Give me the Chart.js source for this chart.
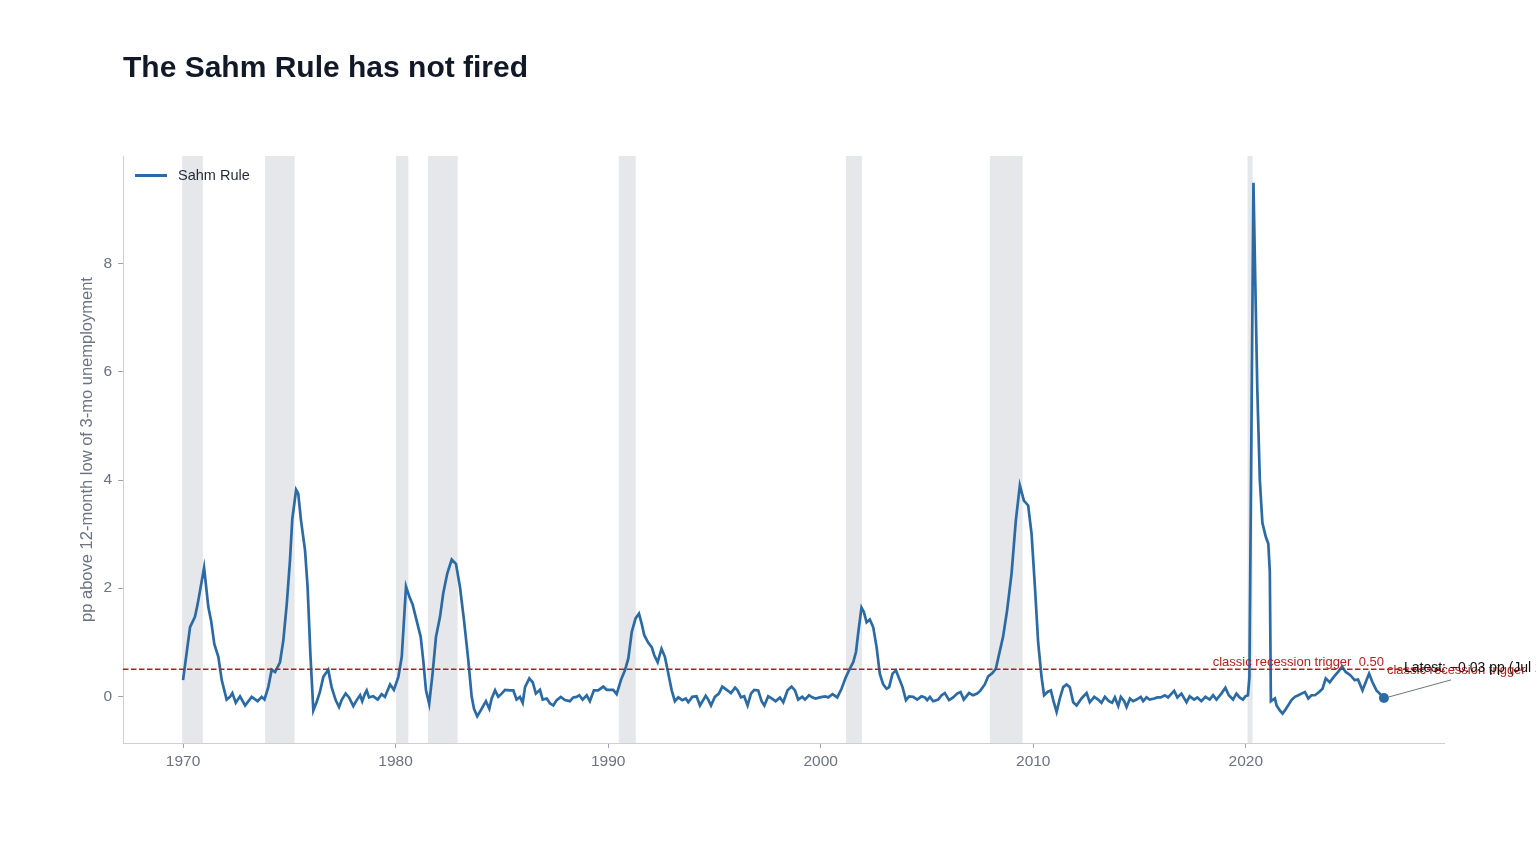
<!DOCTYPE html>
<html lang="en">
<head>
<meta charset="utf-8">
<title>The Sahm Rule has not fired</title>
<script src="https://cdn.jsdelivr.net/npm/chart.js@4.4.1/dist/chart.umd.min.js"></script>
<style>
    html, body { margin: 0; padding: 0; background: #ffffff; }
    .page { position: relative; width: 1536px; height: 864px; overflow: hidden; font-family: "Liberation Sans", Arial, Helvetica, sans-serif; }
    .page h1 { position: absolute; left: 123px; top: 52px; margin: 0; font-size: 30px; line-height: 30px; font-weight: 700; color: #111827; }
    .legend { position: absolute; left: 135px; top: 165px; height: 20px; display: flex; align-items: center; font-size: 14.5px; color: #1f2937; }
    .legend__line { width: 32px; height: 3px; background: #2c6aa3; margin-right: 11px; }
    #chartSahm { position: absolute; left: 0; top: 0; }
</style>
</head>
<body>
<div class="page">
    <canvas id="chartSahm" width="1536" height="864"></canvas>
    <h1>The Sahm Rule has not fired</h1>
    <div class="legend"><span class="legend__line"></span><span>Sahm Rule</span></div>
</div>
<script>
// Sahm Rule readings (pp); x is year + month fraction
const years = [
    1970.00, 1970.33, 1970.56, 1970.69, 1970.99, 1971.19, 1971.32, 1971.47, 1971.66, 1971.82,
    1972.05, 1972.21, 1972.32, 1972.48, 1972.68, 1972.92, 1973.23, 1973.51, 1973.70, 1973.83,
    1974.01, 1974.17, 1974.33, 1974.56, 1974.72, 1974.88, 1975.03, 1975.14, 1975.32, 1975.42,
    1975.55, 1975.74, 1975.86, 1975.99, 1976.13, 1976.29, 1976.44, 1976.60, 1976.83, 1976.99,
    1977.18, 1977.34, 1977.46, 1977.65, 1977.81, 1978.01, 1978.17, 1978.33, 1978.43, 1978.56,
    1978.64, 1978.75, 1978.95, 1979.16, 1979.34, 1979.50, 1979.74, 1979.92, 1980.13, 1980.29,
    1980.49, 1980.65, 1980.80, 1980.99, 1981.18, 1981.30, 1981.43, 1981.58, 1981.74, 1981.90,
    1982.09, 1982.24, 1982.43, 1982.64, 1982.84, 1983.03, 1983.22, 1983.42, 1983.58, 1983.69,
    1983.84, 1984.05, 1984.25, 1984.41, 1984.52, 1984.68, 1984.83, 1984.99, 1985.15, 1985.38,
    1985.54, 1985.69, 1985.85, 1985.98, 1986.09, 1986.29, 1986.45, 1986.60, 1986.79, 1986.92,
    1987.11, 1987.26, 1987.42, 1987.58, 1987.77, 1987.97, 1988.20, 1988.36, 1988.52, 1988.64,
    1988.80, 1988.99, 1989.14, 1989.33, 1989.53, 1989.77, 1989.93, 1990.24, 1990.40, 1990.60,
    1990.79, 1990.95, 1991.11, 1991.29, 1991.45, 1991.58, 1991.70, 1991.89, 1992.05, 1992.17,
    1992.33, 1992.51, 1992.67, 1992.83, 1992.99, 1993.14, 1993.30, 1993.49, 1993.65, 1993.77,
    1993.96, 1994.16, 1994.32, 1994.47, 1994.59, 1994.71, 1994.84, 1995.02, 1995.21, 1995.37,
    1995.58, 1995.78, 1995.97, 1996.09, 1996.25, 1996.40, 1996.56, 1996.72, 1996.87, 1997.06,
    1997.22, 1997.35, 1997.53, 1997.69, 1997.88, 1998.08, 1998.24, 1998.44, 1998.63, 1998.79,
    1998.94, 1999.13, 1999.26, 1999.45, 1999.60, 1999.76, 1999.96, 2000.20, 2000.35, 2000.56,
    2000.78, 2000.98, 2001.19, 2001.37, 2001.53, 2001.66, 2001.78, 2001.92, 2002.03, 2002.16,
    2002.31, 2002.47, 2002.63, 2002.78, 2002.94, 2003.10, 2003.22, 2003.38, 2003.54, 2003.69,
    2003.85, 2004.01, 2004.16, 2004.35, 2004.54, 2004.74, 2004.90, 2005.01, 2005.14, 2005.29,
    2005.53, 2005.69, 2005.84, 2006.04, 2006.23, 2006.42, 2006.58, 2006.73, 2006.98, 2007.17,
    2007.36, 2007.52, 2007.72, 2007.88, 2008.08, 2008.24, 2008.40, 2008.58, 2008.77, 2008.98,
    2009.18, 2009.37, 2009.56, 2009.76, 2009.92, 2010.08, 2010.23, 2010.39, 2010.51, 2010.67,
    2010.83, 2010.94, 2011.10, 2011.25, 2011.41, 2011.57, 2011.72, 2011.88, 2012.04, 2012.27,
    2012.51, 2012.66, 2012.87, 2013.05, 2013.21, 2013.37, 2013.56, 2013.71, 2013.84, 2014.00,
    2014.12, 2014.28, 2014.39, 2014.55, 2014.70, 2014.86, 2015.06, 2015.17, 2015.33, 2015.48,
    2015.69, 2015.84, 2016.00, 2016.19, 2016.34, 2016.63, 2016.78, 2016.97, 2017.21, 2017.36,
    2017.57, 2017.72, 2017.91, 2018.10, 2018.30, 2018.46, 2018.62, 2018.85, 2019.04, 2019.20,
    2019.40, 2019.56, 2019.71, 2019.87, 2019.98, 2020.10, 2020.17, 2020.36, 2020.45, 2020.54,
    2020.66, 2020.78, 2020.94, 2021.06, 2021.13, 2021.18, 2021.37, 2021.45, 2021.60, 2021.73,
    2021.84, 2021.99, 2022.15, 2022.31, 2022.47, 2022.62, 2022.78, 2022.94, 2023.09, 2023.25,
    2023.45, 2023.61, 2023.76, 2023.95, 2024.14, 2024.34, 2024.53, 2024.70, 2024.92, 2025.12,
    2025.28, 2025.49, 2025.64, 2025.80, 2025.96, 2026.15, 2026.30, 2026.50
];
const sahmValues = [
    0.30, 1.28, 1.47, 1.71, 2.38, 1.65, 1.40, 0.97, 0.73, 0.30,
    -0.06, -0.01, 0.06, -0.12, 0.00, -0.17, -0.01, -0.09, -0.01, -0.06,
    0.17, 0.49, 0.45, 0.63, 1.04, 1.71, 2.51, 3.28, 3.82, 3.75,
    3.25, 2.70, 2.02, 0.79, -0.26, -0.10, 0.08, 0.36, 0.49, 0.17,
    -0.07, -0.20, -0.07, 0.05, -0.02, -0.18, -0.07, 0.02, -0.09, 0.05,
    0.11, -0.02, 0.00, -0.06, 0.04, -0.01, 0.22, 0.12, 0.36, 0.73,
    2.03, 1.84, 1.70, 1.40, 1.10, 0.67, 0.11, -0.14, 0.42, 1.10,
    1.47, 1.90, 2.27, 2.53, 2.45, 2.02, 1.40, 0.67, -0.01, -0.23,
    -0.37, -0.23, -0.09, -0.23, -0.04, 0.11, -0.01, 0.05, 0.12, 0.11,
    0.11, -0.06, -0.01, -0.12, 0.17, 0.33, 0.26, 0.05, 0.12, -0.06,
    -0.04, -0.13, -0.17, -0.07, -0.01, -0.07, -0.09, -0.02, -0.01, 0.02,
    -0.06, 0.02, -0.09, 0.11, 0.11, 0.18, 0.12, 0.12, 0.04, 0.30,
    0.48, 0.70, 1.19, 1.44, 1.53, 1.34, 1.13, 0.99, 0.91, 0.76,
    0.63, 0.88, 0.73, 0.42, 0.11, -0.09, -0.02, -0.07, -0.04, -0.11,
    -0.01, 0.00, -0.17, -0.07, 0.01, -0.06, -0.17, -0.01, 0.05, 0.18,
    0.12, 0.06, 0.16, 0.11, -0.02, 0.00, -0.17, 0.05, 0.12, 0.11,
    -0.09, -0.17, 0.00, -0.04, -0.09, -0.02, -0.11, 0.11, 0.18, 0.11,
    -0.06, -0.01, -0.06, 0.02, -0.02, -0.04, -0.02, 0.00, -0.02, 0.04,
    -0.02, 0.14, 0.36, 0.51, 0.63, 0.82, 1.22, 1.64, 1.56, 1.37,
    1.42, 1.28, 0.91, 0.42, 0.22, 0.14, 0.17, 0.42, 0.48, 0.33,
    0.17, -0.07, 0.00, -0.01, -0.06, 0.00, -0.02, -0.07, -0.01, -0.09,
    -0.06, 0.02, 0.06, -0.07, -0.02, 0.05, 0.08, -0.06, 0.06, 0.02,
    0.05, 0.11, 0.22, 0.37, 0.43, 0.51, 0.79, 1.10, 1.59, 2.27,
    3.25, 3.90, 3.62, 3.53, 3.01, 2.02, 1.00, 0.36, 0.02, 0.08,
    0.11, -0.07, -0.29, -0.04, 0.17, 0.22, 0.17, -0.11, -0.17, -0.04,
    0.06, -0.11, -0.01, -0.06, -0.12, -0.01, -0.09, -0.12, -0.02, -0.18,
    -0.01, -0.09, -0.20, -0.04, -0.09, -0.06, -0.01, -0.09, -0.02, -0.06,
    -0.04, -0.02, -0.02, 0.02, -0.02, 0.10, -0.02, 0.05, -0.11, 0.00,
    -0.06, -0.02, -0.09, -0.01, -0.06, 0.02, -0.06, 0.05, 0.16, 0.02,
    -0.06, 0.05, -0.02, -0.06, 0.00, 0.02, 0.35, 9.50, 7.60, 5.70,
    4.00, 3.21, 2.95, 2.82, 2.30, -0.09, -0.04, -0.17, -0.26, -0.32,
    -0.26, -0.17, -0.07, -0.01, 0.02, 0.05, 0.08, -0.04, 0.02, 0.02,
    0.08, 0.14, 0.33, 0.26, 0.36, 0.45, 0.55, 0.45, 0.39, 0.30,
    0.31, 0.11, 0.26, 0.42, 0.26, 0.11, 0.05, -0.03
];
// NBER recessions as [start, end] in fractional years
const recessionStarts = [1969.96, 1973.86, 1980.02, 1981.52, 1990.50, 2001.19, 2007.96, 2020.08];
const recessionEnds = [1970.93, 1975.25, 1980.60, 1982.92, 1991.30, 2001.94, 2009.50, 2020.32];
const triggerLevel = 0.5;
const latestMonthLabel = 'Jul 2026';
const xTickLabels = [1970, 1980, 1990, 2000, 2010, 2020];
const yTickLabels = [0, 2, 4, 6, 8];

(function () {
    'use strict';

    const BLUE = '#2c6aa3';
    const RED = '#b91c1c';
    const GREY = '#6b7280';
    const FONT = '"Liberation Sans", Arial, Helvetica, sans-serif';

    function initSahmChart() {
        const canvas = document.getElementById('chartSahm');
        if (!canvas || typeof Chart === 'undefined') return;

        const points = years.map((x, i) => ({ x, y: sahmValues[i] }));
        const lastX = years[years.length - 1];
        const lastY = sahmValues[sahmValues.length - 1];

        // matplotlib-style 5% margins round the data
        const xSpan = lastX - years[0];
        const xMin = years[0] - xSpan * 0.05;
        const xMax = lastX + xSpan * 0.05;
        const yLo = Math.min(...sahmValues);
        const yHi = Math.max(...sahmValues);
        const yMin = yLo - (yHi - yLo) * 0.05;
        const yMax = yHi + (yHi - yLo) * 0.05;

        const recessionBands = {
            id: 'recessionBands',
            beforeDatasetsDraw(chart) {
                const { ctx, chartArea, scales } = chart;
                ctx.save();
                ctx.fillStyle = '#e5e7eb';
                recessionStarts.forEach((start, i) => {
                    const x1 = scales.x.getPixelForValue(start);
                    const x2 = scales.x.getPixelForValue(recessionEnds[i]);
                    ctx.fillRect(x1, chartArea.top, x2 - x1, chartArea.bottom - chartArea.top);
                });
                ctx.restore();
            },
        };

        const latestNote = {
            id: 'latestNote',
            afterDatasetsDraw(chart) {
                const { ctx, scales } = chart;
                const px = scales.x.getPixelForValue(lastX);
                const py = scales.y.getPixelForValue(lastY);
                const ty = scales.y.getPixelForValue(triggerLevel);
                const valueText = (lastY < 0 ? '\u2212' : '') + Math.abs(lastY).toFixed(2);

                ctx.save();
                ctx.font = '13px ' + FONT;
                ctx.fillStyle = RED;
                ctx.textAlign = 'right';
                ctx.textBaseline = 'alphabetic';
                ctx.fillText('classic recession trigger  ' + triggerLevel.toFixed(2), px, ty - 3);
                ctx.textAlign = 'left';
                ctx.textBaseline = 'middle';
                ctx.fillText('classic recession trigger', px + 3, ty + 1);

                ctx.strokeStyle = GREY;
                ctx.lineWidth = 1;
                ctx.beginPath();
                ctx.moveTo(px + 67, py - 18);
                ctx.lineTo(px + 5, py - 1);
                ctx.stroke();

                ctx.font = '14px ' + FONT;
                ctx.fillStyle = '#111111';
                ctx.fillText('Latest: ' + valueText + ' pp (' + latestMonthLabel + ')', px + 20, py - 30);
                ctx.restore();
            },
        };

        new Chart(canvas, {
            type: 'line',
            data: {
                datasets: [
                    {
                        label: 'Sahm Rule',
                        data: points,
                        borderColor: BLUE,
                        borderWidth: 2.7,
                        pointRadius: 0,
                        tension: 0,
                        order: 2,
                    },
                    {
                        label: 'trigger',
                        data: [{ x: xMin, y: triggerLevel }, { x: xMax, y: triggerLevel }],
                        borderColor: RED,
                        borderWidth: 1.5,
                        borderDash: [5.5, 2.5],
                        pointRadius: 0,
                        order: 1,
                    },
                    {
                        label: 'latest',
                        data: [{ x: lastX, y: lastY }],
                        showLine: false,
                        pointRadius: 5,
                        pointBackgroundColor: BLUE,
                        pointBorderWidth: 0,
                        order: 0,
                    },
                ],
            },
            options: {
                responsive: false,
                devicePixelRatio: 1,
                animation: false,
                layout: { padding: { left: 78, top: 156, right: 92, bottom: 0 } },
                plugins: {
                    legend: { display: false },
                    tooltip: { enabled: false },
                },
                scales: {
                    x: {
                        type: 'linear',
                        min: xMin,
                        max: xMax,
                        afterFit: scale => { scale.height = 121; },
                        afterBuildTicks: scale => { scale.ticks = xTickLabels.map(value => ({ value })); },
                        grid: { display: true, drawOnChartArea: false, drawTicks: true, tickLength: 5, color: '#9ca3af' },
                        border: { display: true, color: '#cfcfcf', width: 1 },
                        ticks: {
                            color: GREY,
                            padding: 4,
                            maxRotation: 0,
                            font: { family: FONT, size: 15.5 },
                            callback: value => String(value),
                        },
                    },
                    y: {
                        type: 'linear',
                        min: yMin,
                        max: yMax,
                        afterFit: scale => { scale.width = 45; },
                        afterBuildTicks: scale => { scale.ticks = yTickLabels.map(value => ({ value })); },
                        grid: { display: true, drawOnChartArea: false, drawTicks: true, tickLength: 5, color: '#9ca3af' },
                        border: { display: true, color: '#cfcfcf', width: 1 },
                        ticks: {
                            color: GREY,
                            padding: 6,
                            font: { family: FONT, size: 15.5 },
                            callback: value => String(value),
                        },
                        title: {
                            display: true,
                            text: 'pp above 12-month low of 3-mo unemployment',
                            color: GREY,
                            padding: 0,
                            font: { family: FONT, size: 16.5 },
                        },
                    },
                },
            },
            plugins: [recessionBands, latestNote],
        });
    }

    if (document.readyState === 'loading') {
        document.addEventListener('DOMContentLoaded', initSahmChart);
    } else {
        initSahmChart();
    }
})();
</script>
</body>
</html>
